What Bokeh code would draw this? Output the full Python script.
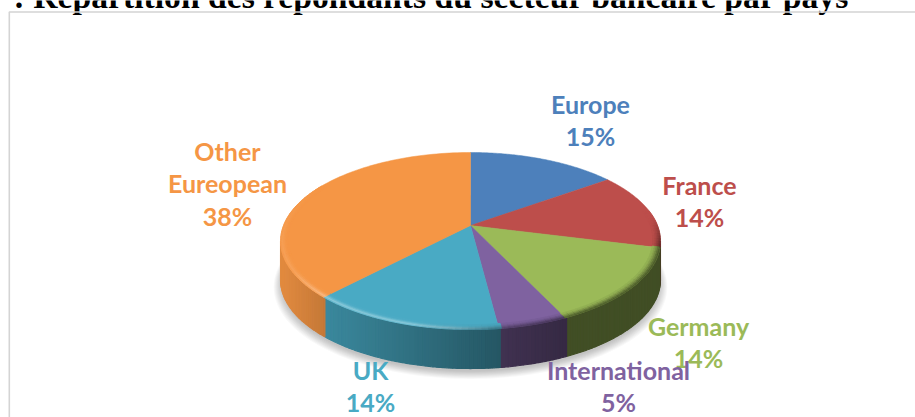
import numpy as np
from bokeh.plotting import figure
from bokeh.models import Range1d
from bokeh.core.properties import value
from bokeh.embed import file_html
from bokeh.resources import INLINE

# ---- data ----
categories = ["Europe", "France", "Germany", "International", "UK", "Other Eureopean"]
shares = [15, 14, 14, 5, 14, 38]
colors = ["#4d80bb", "#bd4e4b", "#9bba58", "#7f62a0", "#49aac4", "#f59645"]
title_text = ": Répartition des répondants du secteur bancaire par pays"
label_lines = [["Europe"], ["France"], ["Germany"], ["International"], ["UK"], ["Other", "Eureopean"]]
label_pos = [(590, 103), (699, 184), (698, 325), (618, 369), (370, 369), (227, 150)]

W, H = 915, 417
CX, CY, A, B, K, DEPTH = 470, 225, 187, 85.8, 0.1752, 39
LH = 32.5

def proj(t, r=1.0, dy=0.0):
    t = np.asarray(t, dtype=float)
    w = 1 + K * r * np.cos(t)
    return CX + A * r * np.sin(t) / w, CY - B * r * np.cos(t) / w + dy

def mix(c, other, f):
    rgb = [int(c[i:i + 2], 16) for i in (1, 3, 5)]
    return "#%02x%02x%02x" % tuple(int(round(v + (o - v) * f)) for v, o in zip(rgb, other))

def shade(c, f):
    return mix(c, (0, 0, 0), 1 - f)

edges = np.radians(np.concatenate([[0], np.cumsum(shares)]) * 3.6)

p = figure(width=W, height=H, x_range=Range1d(0, W), y_range=Range1d(H, 0),
           output_backend="svg", toolbar_location=None, min_border=0,
           x_axis_location=None, y_axis_location=None,
           outline_line_color=None, border_fill_color="white", background_fill_color="white")
p.grid.visible = False

# title and frame
p.text([13], [-4], text=[title_text], text_font=value("Liberation Serif"), text_font_style="bold",
       text_font_size="33.7px", text_color="#000000", text_baseline="alphabetic", text_align="left")
p.multi_line([[8.8, 8.8, W]], [[H, 11.5, 11.5]], line_color="#d4d4d4", line_width=1.6)

# soft shadow
tt = np.linspace(0, 2 * np.pi, 240)
for i in range(9):
    x, y = proj(tt, 1.035 - 0.005 * i, DEPTH + 6 - 0.3 * i)
    p.patch(x, y, fill_color="#000000", fill_alpha=0.028, line_color=None)

# side wall
tmin, tmax = np.arccos(-K), 2 * np.pi - np.arccos(-K)
steps = np.linspace(tmin, tmax, 160)
for t0, t1 in zip(steps[:-1], steps[1:]):
    mid = (t0 + t1) / 2
    idx = int(np.searchsorted(edges, mid)) - 1
    mx = float(proj(mid)[0])
    f = np.interp(mx, [282, 325, 505, 566, 660], [0.92, 0.80, 0.50, 0.42, 0.42])
    ts = np.linspace(t0, t1, 3)
    xa, ya = proj(ts)
    xb, yb = proj(ts[::-1], 1.0, DEPTH)
    col = shade(colors[idx], f)
    p.patch(np.r_[xa, xb], np.r_[ya, yb], fill_color=col, line_color=col, line_width=1.2)

# top surface
for i, c in enumerate(colors):
    ts = np.linspace(edges[i], edges[i + 1], 90)
    x, y = proj(ts)
    p.patch(np.r_[CX, x], np.r_[CY, y], fill_color=c, line_color=c, line_width=0.5)

# bevel along the rim
radii = [1.0, 0.992, 0.984, 0.976, 0.968, 0.96]
blend = [0.9, 0.7, 0.45, 0.25, 0.1]
ring_light = [0.6, 1.0, 0.6, 0.25, 0.05]
steps = np.linspace(np.radians(80), np.radians(300), 130)
for t0, t1 in zip(steps[:-1], steps[1:]):
    mid = np.degrees((t0 + t1) / 2)
    idx = int(np.searchsorted(edges, np.radians(mid))) - 1
    light = np.interp(mid, [170, 185, 223, 240, 300], [0.0, 0.35, 0.35, 0.12, 0.0])
    dark = np.interp(mid, [85, 105, 150, 175, 195], [0.0, 0.55, 0.55, 0.35, 0.0])
    for k, b in enumerate(blend):
        base = mix(colors[idx], (255, 255, 255), light * ring_light[k])
        col = mix(base, (0, 0, 0), dark * b)
        ts = np.linspace(t0, t1, 3)
        xa, ya = proj(ts, radii[k])
        xb, yb = proj(ts[::-1], radii[k + 1])
        p.patch(np.r_[xa, xb], np.r_[ya, yb], fill_color=col, line_color=col, line_width=0.8)

# labels
tx, ty, ts_, tc = [], [], [], []
for i, (lines, (lx, ly)) in enumerate(zip(label_lines, label_pos)):
    for j, s in enumerate(lines + [f"{shares[i]}%"]):
        tx.append(lx); ty.append(ly + j * LH); ts_.append(s); tc.append(colors[i])
p.text(tx, ty, text=ts_, text_color=tc, text_font=value("Lato"), text_font_style="bold",
       text_font_size="25px", text_align="center", text_baseline="middle")

open("out.html", "w").write(file_html(p, INLINE))
